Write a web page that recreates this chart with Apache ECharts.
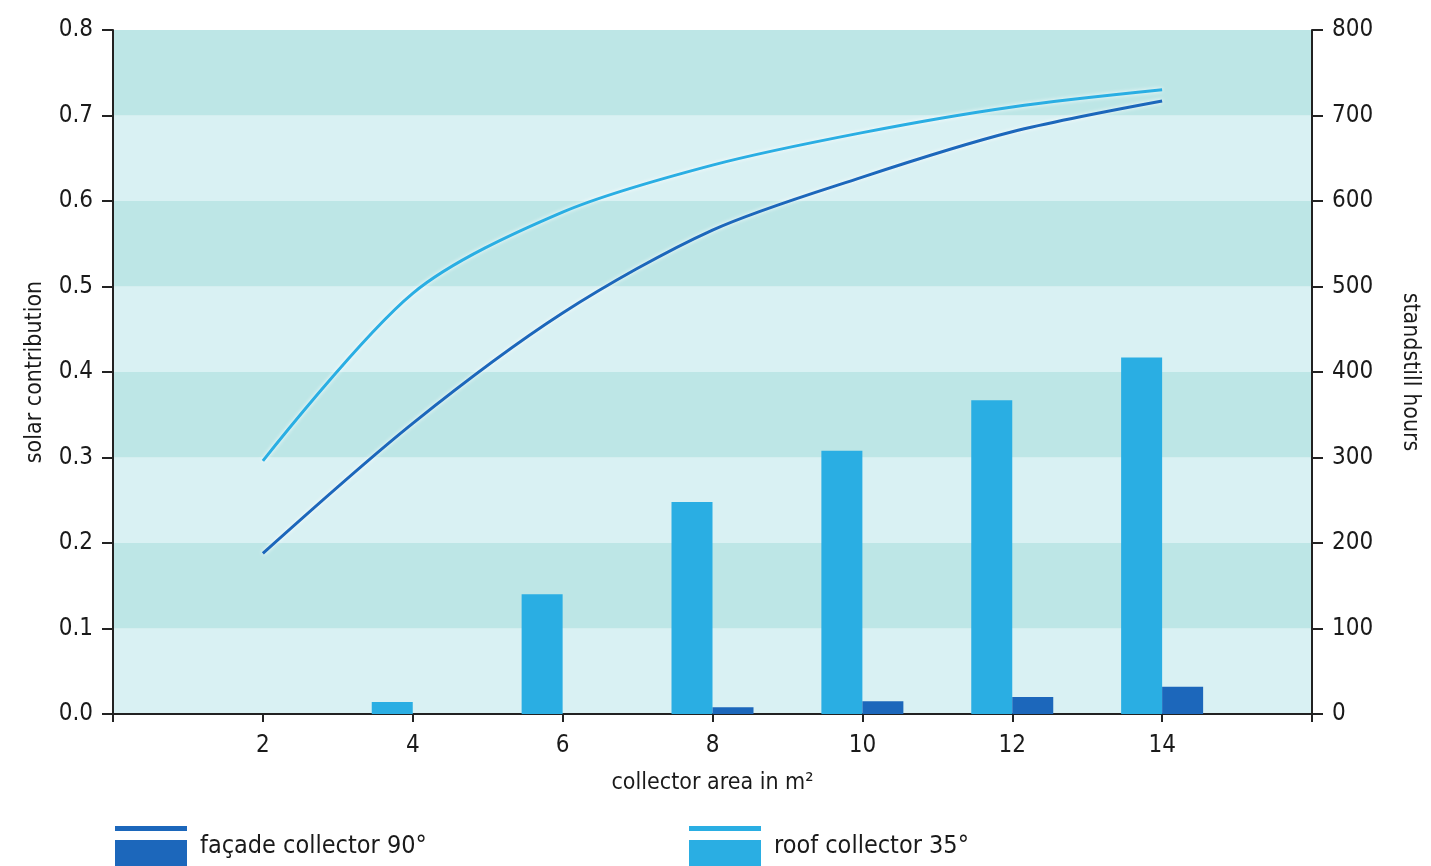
<!DOCTYPE html>
<html>
<head>
<meta charset="utf-8">
<script src="https://cdn.jsdelivr.net/npm/echarts@6/dist/echarts.min.js"></script>
<style>
  html, body { margin: 0; padding: 0; background: #fff; }
  #chart { width: 1431px; height: 866px; }
</style>
</head>
<body>
<div id="chart"></div>
<script>
// collector area (m²)
const areas = [2, 4, 6, 8, 10, 12, 14];
// solar contribution (left axis)
const facadeContribution = [0.188, 0.340, 0.469, 0.566, 0.628, 0.681, 0.717];
const roofContribution = [0.296, 0.492, 0.587, 0.642, 0.680, 0.710, 0.730];
// standstill hours (right axis)
const facadeHours = [0, 0, 0, 8, 15, 20, 32];
const roofHours = [0, 14, 140, 248, 308, 367, 417];

const FONT = "'DejaVu Sans Condensed', 'Liberation Sans Narrow', sans-serif";
const facadeColor = '#1c67bb';
const roofColor = '#2aaee3';
const facadeName = 'façade collector 90°';
const roofName = 'roof collector 35°';

const pairs = (ys) => areas.map((x, i) => [x, ys[i]]);

const chart = echarts.init(document.getElementById('chart'));

// legend icon: thin line on top, thick bar below
const legendIcon = 'path://M0,0H72V5H0Z M0,14H72V40H0Z';

const axisLineStyle = { color: '#222', width: 2 };
const labelStyle = { color: '#1a1a1a', fontFamily: FONT, fontSize: 24 };
const nameStyle = { color: '#1a1a1a', fontFamily: FONT, fontSize: 23 };
const legendText = { color: '#1a1a1a', fontFamily: FONT, fontSize: 25, padding: [0, 0, 0, 8] };

const option = {
  animation: false,
  grid: { left: 113, right: 119, top: 30, bottom: 152 },
  legend: [
    {
      left: 115, top: 826, padding: 0,
      itemWidth: 72, itemHeight: 40,
      data: [{ name: facadeName, icon: legendIcon }],
      textStyle: legendText,
      selectedMode: false
    },
    {
      left: 689, top: 826, padding: 0,
      itemWidth: 72, itemHeight: 40,
      data: [{ name: roofName, icon: legendIcon }],
      textStyle: legendText,
      selectedMode: false
    }
  ],
  xAxis: {
    type: 'value',
    min: 0, max: 16, interval: 2,
    name: 'collector area in m²',
    nameLocation: 'middle',
    nameGap: 58,
    nameTextStyle: nameStyle,
    axisLine: { lineStyle: axisLineStyle },
    axisTick: { length: 8, lineStyle: axisLineStyle },
    axisLabel: Object.assign({
      margin: 20,
      formatter: (v) => (v === 0 || v === 16 ? '' : String(v))
    }, labelStyle),
    splitLine: { show: false }
  },
  yAxis: [
    {
      type: 'value',
      min: 0, max: 0.8, interval: 0.1,
      name: 'solar contribution',
      nameLocation: 'middle',
      nameGap: 66,
      nameTextStyle: nameStyle,
      axisLine: { show: true, lineStyle: axisLineStyle },
      axisTick: { show: true, length: 11, lineStyle: axisLineStyle },
      axisLabel: Object.assign({
        margin: 20,
        formatter: (v) => v.toFixed(1)
      }, labelStyle),
      splitLine: { show: false },
      splitArea: {
        show: true,
        areaStyle: { color: ['#d9f1f3', '#bde6e6'] }
      }
    },
    {
      type: 'value',
      min: 0, max: 800, interval: 100,
      name: 'standstill hours',
      nameLocation: 'middle',
      nameRotate: -90,
      nameGap: 86,
      nameTextStyle: nameStyle,
      position: 'right',
      axisLine: { show: true, lineStyle: axisLineStyle },
      axisTick: { show: true, length: 11, lineStyle: axisLineStyle },
      axisLabel: Object.assign({ margin: 20 }, labelStyle),
      splitLine: { show: false }
    }
  ],
  series: [
    {
      name: roofName,
      type: 'bar',
      yAxisIndex: 1,
      barWidth: 41,
      barGap: '0%',
      itemStyle: { color: roofColor },
      data: pairs(roofHours)
    },
    {
      name: facadeName,
      type: 'bar',
      yAxisIndex: 1,
      barWidth: 41,
      barGap: '0%',
      itemStyle: { color: facadeColor },
      data: pairs(facadeHours)
    },
    {
      name: roofName,
      type: 'line',
      yAxisIndex: 0,
      smooth: 0.3,
      showSymbol: false,
      symbol: 'none',
      lineStyle: {
        color: roofColor, width: 3,
        shadowColor: 'rgba(255,255,255,0.95)', shadowBlur: 4
      },
      itemStyle: { color: roofColor },
      data: pairs(roofContribution)
    },
    {
      name: facadeName,
      type: 'line',
      yAxisIndex: 0,
      smooth: 0.3,
      showSymbol: false,
      symbol: 'none',
      lineStyle: {
        color: facadeColor, width: 3,
        shadowColor: 'rgba(255,255,255,0.95)', shadowBlur: 4
      },
      itemStyle: { color: facadeColor },
      data: pairs(facadeContribution)
    }
  ]
};

chart.setOption(option);
</script>
</body>
</html>
